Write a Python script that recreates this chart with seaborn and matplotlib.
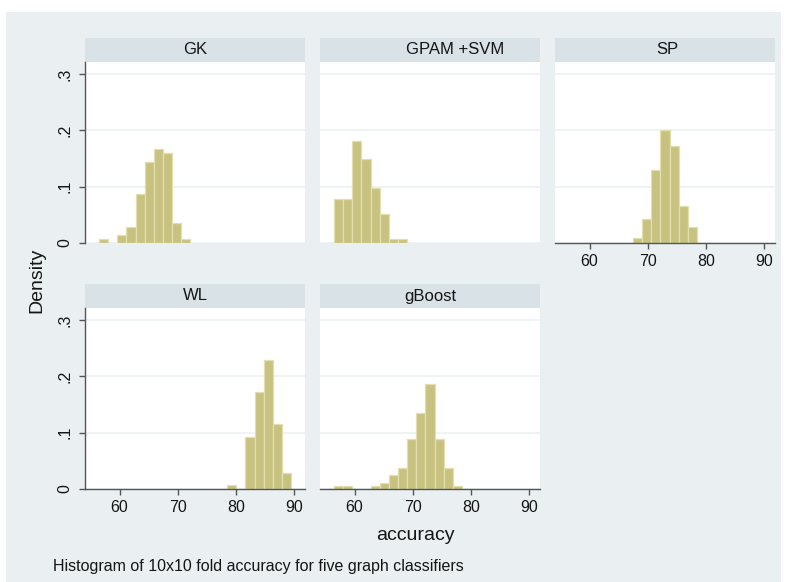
import matplotlib
matplotlib.use("Agg")
import numpy as np
import pandas as pd
import seaborn as sns
import matplotlib.pyplot as plt
from matplotlib.patches import Rectangle

# ---------------- data (densities per histogram bin) ----------------
classifiers = ["GK", "GPAM +SVM", "SP", "WL", "gBoost"]
bin_start = 56.45
bin_width = 1.575
n_bins = 21

gk_density = [0.0077, 0, 0.0149, 0.0286, 0.0869, 0.1446, 0.1667, 0.1595, 0.0357, 0.0077, 0, 0, 0, 0, 0, 0, 0, 0, 0, 0, 0]
gpam_density = [0.078, 0.078, 0.182, 0.149, 0.097, 0.051, 0.0065, 0.0065, 0, 0, 0, 0, 0, 0, 0, 0, 0, 0, 0, 0, 0]
sp_density = [0, 0, 0, 0, 0, 0, 0, 0.0082, 0.0428, 0.129, 0.200, 0.172, 0.065, 0.0287, 0, 0, 0, 0, 0, 0, 0]
wl_density = [0, 0, 0, 0, 0, 0, 0, 0, 0, 0, 0, 0, 0, 0, 0.0071, 0, 0.093, 0.172, 0.230, 0.1147, 0.0282]
gboost_density = [0.0047, 0.0047, 0, 0, 0.0047, 0.0112, 0.0243, 0.0373, 0.0893, 0.135, 0.187, 0.0893, 0.0373, 0.0047, 0, 0, 0, 0, 0, 0, 0]

x_ticks = [60, 70, 80, 90]
y_ticks = [0, 0.1, 0.2, 0.3]
y_ticklabels = ["0", ".1", ".2", ".3"]

x_label = "accuracy"
y_label = "Density"
caption = "Histogram of 10x10 fold accuracy for five graph classifiers"

# ---------------- build table ----------------
densities = [gk_density, gpam_density, sp_density, wl_density, gboost_density]
bin_end = bin_start + bin_width * n_bins
centers = bin_start + bin_width * (np.arange(n_bins) + 0.5)
rows = []
for name, dens in zip(classifiers, densities):
    for c, d in zip(centers, dens):
        if d > 0:
            rows.append({"classifier": name, "accuracy": float(c), "density": float(d)})
df = pd.DataFrame(rows)

# ---------------- style ----------------
sns.set_theme(style="white")
plt.rcParams["font.family"] = ["Liberation Sans", "DejaVu Sans"]

BG = "#EAF0F2"
STRIP = "#D9E2E7"
BAR = "#C8C281"
EDGE = "#E2DEAE"
AX = "#555555"
TXT = "#151515"

W, H = 789, 582
fig = plt.figure(figsize=(W / 100, H / 100), dpi=100, facecolor="white")


def fx(px):
    return px / W


def fy(py):
    return 1 - py / H


fig.patches.append(Rectangle((fx(6), fy(582)), fx(781) - fx(6), fy(12) - fy(582),
                             transform=fig.transFigure, facecolor=BG,
                             edgecolor="none", zorder=-10))

col_left = [85, 320, 555]
panel_w = 220
rows_px = [(38, 62, 243), (284, 308, 489)]  # strip top, plot top, plot bottom

layout = [(0, 0), (0, 1), (0, 2), (1, 0), (1, 1)]
title_shift = [0, 25, 2, 0, 0]

for name, (r, c), dx in zip(classifiers, layout, title_shift):
    st, pt, pb = rows_px[r]
    left = col_left[c]
    ax = fig.add_axes([fx(left), fy(pb), panel_w / W, (pb - pt) / H])
    ax.set_facecolor("white")
    sub = df[df["classifier"] == name]
    sns.histplot(data=sub, x="accuracy", weights="density", bins=n_bins,
                 binrange=(bin_start, bin_end),
                 stat="count", color=BAR, edgecolor=EDGE, linewidth=0.9,
                 alpha=1, ax=ax)
    for p in list(ax.patches):
        if p.get_height() <= 0:
            p.remove()
    ax.set_xlim(54.05, 91.9)
    ax.set_ylim(0, 0.3215)
    ax.set_xlabel("")
    ax.set_ylabel("")
    ax.set_yticks(y_ticks)
    ax.set_xticks(x_ticks)
    ax.yaxis.grid(True, color=BG, linewidth=1.1)
    ax.xaxis.grid(False)
    ax.set_axisbelow(True)
    for s in ax.spines.values():
        s.set_visible(False)

    show_x = (r == 1) or (c == 2)
    show_y = (c == 0)
    if show_y:
        ax.spines["left"].set_visible(True)
        ax.spines["left"].set_color(AX)
        ax.spines["left"].set_linewidth(1)
        ax.set_yticklabels(y_ticklabels, rotation=90, va="center")
        ax.tick_params(axis="y", left=True, length=4, width=1, color=AX,
                       pad=5, labelsize=11.5, labelcolor=TXT, direction="out")
    else:
        ax.tick_params(axis="y", left=False, labelleft=False)
    if show_x:
        ax.spines["bottom"].set_visible(True)
        ax.spines["bottom"].set_color(AX)
        ax.spines["bottom"].set_linewidth(1)
        ax.tick_params(axis="x", bottom=True, length=4, width=1, color=AX,
                       pad=4, labelsize=11.5, labelcolor=TXT, direction="out")
    else:
        ax.tick_params(axis="x", bottom=False, labelbottom=False)

    # facet strip
    fig.patches.append(Rectangle((fx(left), fy(pt)), panel_w / W, (pt - st) / H,
                                 transform=fig.transFigure, facecolor=STRIP,
                                 edgecolor="none", zorder=-5))
    fig.text(fx(left + panel_w / 2 + dx), fy((st + pt) / 2), name, ha="center",
             va="center", fontsize=12, color=TXT)

fig.text(fx(37), fy(280), y_label, rotation=90, ha="center", va="center",
         fontsize=14, color=TXT)
fig.text(fx(415), fy(536), x_label, ha="center", va="center", fontsize=14,
         color=TXT)
fig.text(fx(53), fy(566), caption, ha="left", va="center", fontsize=11.5,
         color=TXT)

fig.savefig("out.png", dpi=100, facecolor=fig.get_facecolor())
